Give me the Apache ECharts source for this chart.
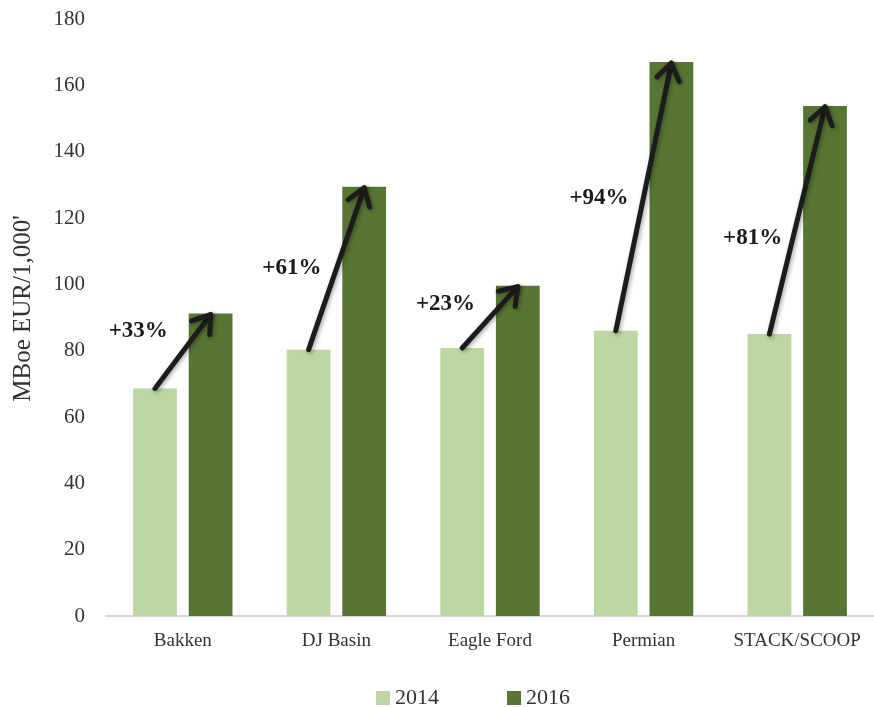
<!DOCTYPE html>
<html>
<head>
<meta charset="utf-8">
<title>EUR per 1,000 ft by basin</title>
<script src="https://cdn.jsdelivr.net/npm/echarts@6/dist/echarts.min.js"></script>
<style>
  html, body { margin: 0; padding: 0; background: #ffffff; }
  #chart { width: 874px; height: 707px; }
</style>
</head>
<body>
<div id="chart"></div>
<script>
// Basins along the category axis
const basins = ['Bakken', 'DJ Basin', 'Eagle Ford', 'Permian', 'STACK/SCOOP'];
// MBoe EUR per 1,000 ft of lateral
const eur2014 = [68.6, 80.3, 80.8, 86.0, 85.0];
const eur2016 = [91.2, 129.4, 99.6, 167.0, 153.8];
// Value-axis height at which each growth label sits
const growthLabelAt = [86, 105, 94, 126, 114];
// Value axis ticks
const yMin = 0, yMax = 180, yStep = 20;

const serif = '"Liberation Serif", "DejaVu Serif", serif';
const lightGreen = '#BCD7A1';
const darkGreen = '#587633';
const arrowColor = '#1c1c1c';

// Arrow annotations: one per basin, from the 2014 bar top to the 2016 bar top
const arrowData = basins.map((b, i) => [i, eur2014[i], eur2016[i], growthLabelAt[i]]);

function growthText(i) {
  return '+' + Math.round((eur2016[i] / eur2014[i] - 1) * 100) + '%';
}

function renderArrow(params, api) {
  const i = api.value(0);
  const band = api.size([1, 0])[0];
  // bar centres sit +/- (barWidth + barGap) / 2 from the category centre
  const off = band * (0.285 + 0.285 * 0.27) / 2;
  const p1 = api.coord([i, api.value(1)]);
  const p2 = api.coord([i, api.value(2)]);
  const x1 = p1[0] - off, y1 = p1[1];
  const x2 = p2[0] + off, y2 = p2[1] + 1;
  const ang = Math.atan2(y2 - y1, x2 - x1);
  const arm = 20, spread = Math.PI / 5.2;
  const a1 = [x2 - arm * Math.cos(ang - spread), y2 - arm * Math.sin(ang - spread)];
  const a2 = [x2 - arm * Math.cos(ang + spread), y2 - arm * Math.sin(ang + spread)];
  const lineStyle = {
    stroke: arrowColor, lineWidth: 5, lineCap: 'round', lineJoin: 'round', fill: null,
    shadowBlur: 4, shadowColor: 'rgba(0,0,0,0.35)', shadowOffsetX: 1.5, shadowOffsetY: 1.5
  };
  const lp = api.coord([i, api.value(3)]);
  return {
    type: 'group',
    children: [
      { type: 'line', shape: { x1: x1, y1: y1, x2: x2, y2: y2 }, style: lineStyle },
      { type: 'polyline', shape: { points: [a1, [x2, y2], a2] }, style: lineStyle },
      {
        type: 'text',
        style: {
          x: lp[0] - band * 0.29, y: lp[1],
          text: growthText(i),
          font: 'bold 23px ' + serif,
          fill: '#1a1a1a',
          align: 'center', verticalAlign: 'middle'
        }
      }
    ]
  };
}

const chart = echarts.init(document.getElementById('chart'), null, { renderer: 'canvas' });
chart.setOption({
  animation: false,
  backgroundColor: '#ffffff',
  textStyle: { fontFamily: serif },
  grid: { left: 106, right: -4, top: 19, bottom: 91, containLabel: false },
  legend: {
    data: ['2014', '2016'],
    top: 682,
    left: 371,
    icon: 'rect',
    itemWidth: 14,
    itemHeight: 14,
    itemGap: 68,
    textStyle: { fontFamily: serif, fontSize: 22, color: '#333333', padding: [0, 0, 0, 0] }
  },
  xAxis: {
    type: 'category',
    data: basins,
    axisLine: { show: true, lineStyle: { color: '#d9d9d9', width: 2 } },
    axisTick: { show: false },
    axisLabel: { interval: 0, fontFamily: serif, fontSize: 19, color: '#333333', margin: 16 }
  },
  yAxis: {
    type: 'value',
    min: yMin,
    max: yMax,
    interval: yStep,
    name: "MBoe EUR/1,000'",
    nameLocation: 'middle',
    nameRotate: 90,
    nameGap: 70,
    nameTextStyle: { fontFamily: serif, fontSize: 25, color: '#333333', padding: [0, 0, 0, 18] },
    axisLine: { show: false },
    axisTick: { show: false },
    splitLine: { show: false },
    axisLabel: { fontFamily: serif, fontSize: 21, color: '#333333', margin: 21 }
  },
  series: [
    {
      name: '2014', type: 'bar', data: eur2014,
      barWidth: '28.5%', barGap: '27%',
      itemStyle: { color: lightGreen }
    },
    {
      name: '2016', type: 'bar', data: eur2016,
      barWidth: '28.5%', barGap: '27%',
      itemStyle: { color: darkGreen }
    },
    {
      name: 'growth', type: 'custom', data: arrowData,
      encode: { x: 0, y: [1, 2] },
      renderItem: renderArrow,
      clip: false,
      z: 10,
      silent: true
    }
  ]
});
</script>
</body>
</html>
